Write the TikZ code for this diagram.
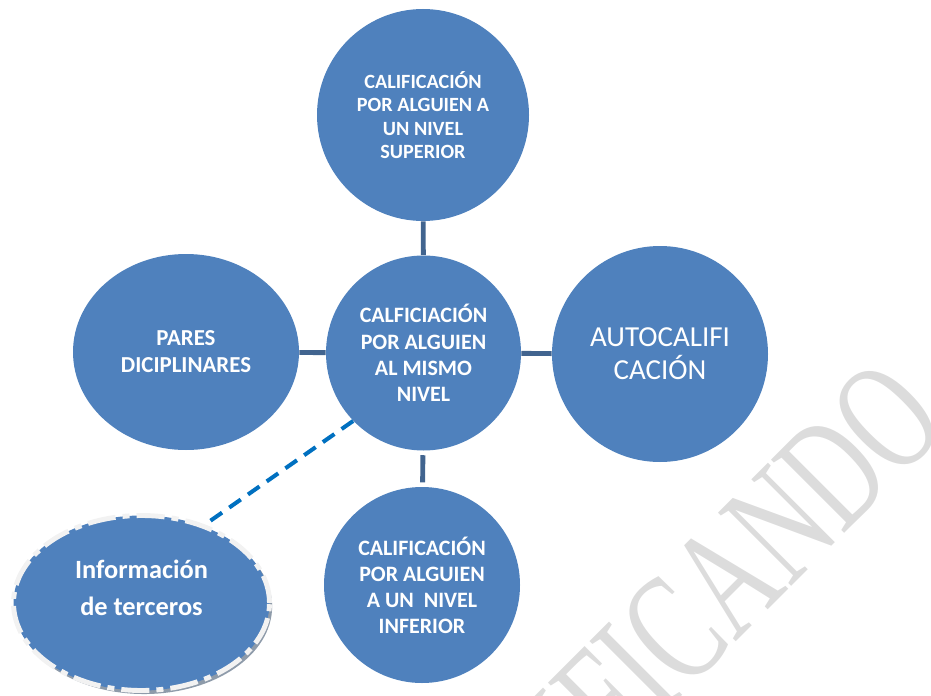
\documentclass[tikz,border=0pt]{standalone}
\usepackage{fontspec}
\setmainfont{Carlito}
\newfontfamily\wmfont{Liberation Serif}
\usetikzlibrary{shapes.geometric,shadows}
\definecolor{bolita}{HTML}{4F81BD}
\definecolor{linea}{HTML}{41648F}
\definecolor{punteo}{HTML}{0070C0}
\definecolor{marca}{HTML}{DCDCDC}
\definecolor{borde}{HTML}{F2F2F2}
\definecolor{sombra}{HTML}{8E9BAA}
\begin{document}
\begin{tikzpicture}
\useasboundingbox (0,0) rectangle (18.62,13.9);
\begin{scope}
\clip (0,0) rectangle (18.62,13.9);
\node[text=marca,anchor=base,rotate=45,yscale=1.5,inner sep=0pt] at (13.96,0.3) (agua)
  {\wmfont\fontsize{60}{60}\selectfont VERIFICANDO};
\end{scope}
\tikzstyle{every node}=[circle,fill=bolita,text=white,inner sep=0pt,align=center]
\node[minimum size=4.24cm,font=\bfseries\fontsize{11.5}{13.2}\selectfont] at (8.46,11.6) (sup)
  {CALIFICACIÓN\\POR ALGUIEN A\\UN NIVEL\\SUPERIOR};
\node[minimum size=3.9cm,font=\bfseries\fontsize{12.5}{15}\selectfont] at (8.47,6.84) (mismo)
  {CALFICIACIÓN\\POR ALGUIEN\\AL MISMO\\NIVEL};
\node[ellipse,minimum width=4.52cm,minimum height=3.92cm,font=\bfseries\fontsize{13}{15.3}\selectfont] at (3.72,6.86) (pares)
  {PARES\\DICIPLINARES};
\node[minimum size=4.32cm,font=\fontsize{16.5}{18.8}\selectfont] at (13.2,6.82) (auto)
  {AUTOCALIFI\\CACIÓN};
\node[minimum size=3.92cm,font=\bfseries\fontsize{12.5}{14.8}\selectfont] at (8.44,2.2) (inf)
  {CALIFICACIÓN\\POR ALGUIEN\\A UN\ \ NIVEL\\INFERIOR};
\node[ellipse,minimum width=5.12cm,minimum height=3.5cm,draw=borde,line width=2.8pt,
      dash pattern=on 16pt off 4pt on 4pt off 4pt,
      drop shadow={shadow xshift=1.5pt,shadow yshift=-2pt,fill=sombra,opacity=1}] at (2.83,1.84) (terc) {};
\node[fill=none,font=\bfseries\fontsize{15}{21}\selectfont] at (2.83,2.14) (tercT)
  {Información\\de terceros};
\draw[linea,line width=2.8pt,shorten <=2.5pt,shorten >=2.5pt]
      (sup) -- (mismo)
      (pares) -- (mismo)
      (mismo) -- (auto)
      (mismo) -- (inf);
\draw[punteo,line width=2.3pt,dash pattern=on 8pt off 5pt] (mismo.224) -- (terc.51);
\end{tikzpicture}
\end{document}
